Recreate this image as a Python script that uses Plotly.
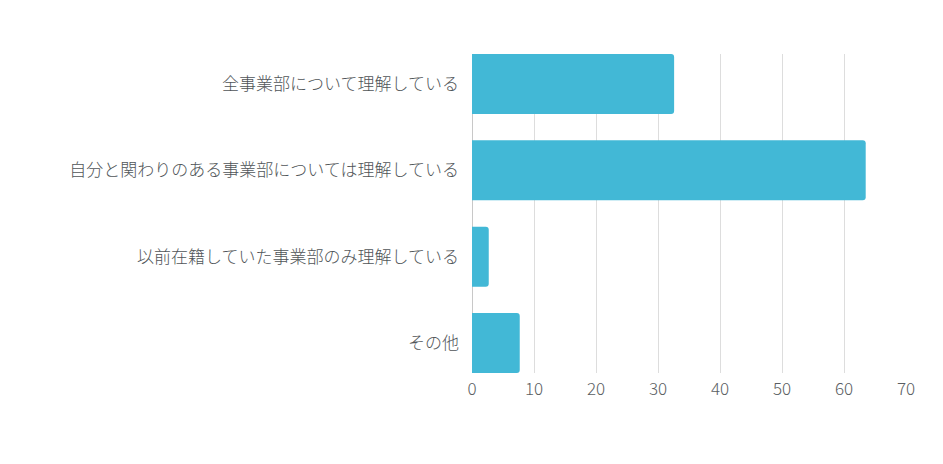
import plotly.graph_objects as go

categories = [
    "全事業部について理解している",
    "自分と関わりのある事業部については理解している",
    "以前在籍していた事業部のみ理解している",
    "その他",
]
values = [32.6, 63.5, 2.7, 7.7]
x_ticks = [0, 10, 20, 30, 40, 50, 60, 70]

fig = go.Figure(
    go.Bar(
        x=values,
        y=categories,
        orientation="h",
        width=0.694,
        marker=dict(color="#42B8D6", line=dict(width=0)),
        hoverinfo="x+y",
    )
)

fig.update_layout(
    width=943,
    height=464,
    margin=dict(l=464, r=45, t=46, b=99),
    paper_bgcolor="white",
    plot_bgcolor="white",
    barcornerradius=3,
    showlegend=False,
    font=dict(family="Noto Sans CJK JP, Noto Sans, sans-serif", size=17, color="#505558", weight=300),
    xaxis=dict(
        range=[0, 70],
        tickvals=x_ticks,
        ticktext=[str(v) for v in x_ticks],
        showgrid=True,
        gridcolor="#dddddd",
        gridwidth=1,
        zeroline=True,
        zerolinecolor="#c8c8c8",
        zerolinewidth=1,
        showline=False,
        ticks="",
        ticklabelstandoff=4,
        tickfont=dict(size=17, color="#5a5e62", weight=300),
        fixedrange=True,
    ),
    yaxis=dict(
        categoryorder="array",
        categoryarray=categories,
        range=[3.347, -0.347],
        showgrid=False,
        zeroline=False,
        showline=False,
        ticks="",
        ticklabelstandoff=12,
        tickfont=dict(size=17, color="#505558", weight=300),
        fixedrange=True,
    ),
)

fig.write_html("out.html")
